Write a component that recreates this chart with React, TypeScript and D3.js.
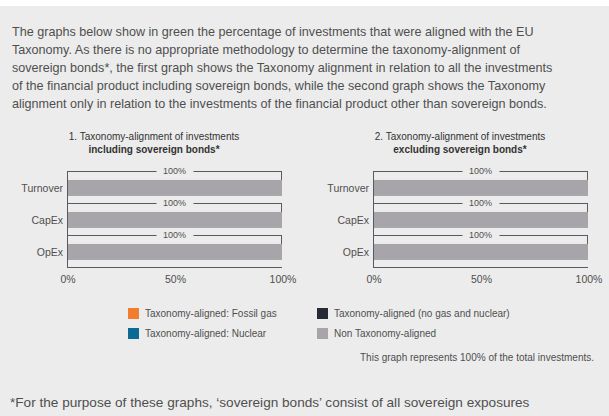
import React from "react";
import * as d3 from "d3";

const paragraphLines = [
  "The graphs below show in green the percentage of investments that were aligned with the EU",
  "Taxonomy. As there is no appropriate methodology to determine the taxonomy-alignment of",
  "sovereign bonds*, the first graph shows the Taxonomy alignment in relation to all the investments",
  "of the financial product including sovereign bonds, while the second graph shows the Taxonomy",
  "alignment only in relation to the investments of the financial product other than sovereign bonds.",
];

const categories = ["Turnover", "CapEx", "OpEx"];
const seriesKeys = ["fossilGas", "nuclear", "alignedOther", "nonAligned"];
const seriesLabels = [
  "Taxonomy-aligned: Fossil gas",
  "Taxonomy-aligned: Nuclear",
  "Taxonomy-aligned (no gas and nuclear)",
  "Non Taxonomy-aligned",
];
const seriesColors = ["#f07e2c", "#0d6a93", "#262a35", "#a7a5a9"];

// Chart 1: including sovereign bonds
const chart1FossilGas = [0, 0, 0];
const chart1Nuclear = [0, 0, 0];
const chart1AlignedOther = [0, 0, 0];
const chart1NonAligned = [100, 100, 100];
// Chart 2: excluding sovereign bonds
const chart2FossilGas = [0, 0, 0];
const chart2Nuclear = [0, 0, 0];
const chart2AlignedOther = [0, 0, 0];
const chart2NonAligned = [100, 100, 100];

const xTicks = [0, 50, 100];
const chartTitles = [
  ["1. Taxonomy-alignment of investments", "including sovereign bonds*"],
  ["2. Taxonomy-alignment of investments", "excluding sovereign bonds*"],
];
const note = "This graph represents 100% of the total investments.";
const footnote =
  "*For the purpose of these graphs, \u2018sovereign bonds\u2019 consist of all sovereign exposures";

const FONT = "'Liberation Sans', Arial, Helvetica, sans-serif";
const TEXT = "#4f4f4f";
const LINE = "#5a5a5e";

function buildRows(fg: number[], nu: number[], al: number[], na: number[]) {
  return categories.map((c, i) => ({
    category: c,
    fossilGas: fg[i],
    nuclear: nu[i],
    alignedOther: al[i],
    nonAligned: na[i],
  }));
}

function BarChart({ rows, x0, title }: { rows: any[]; x0: number; title: string[] }) {
  const x = d3.scaleLinear().domain([0, 100]).range([x0, x0 + 215]);
  const y = d3.scaleBand().domain(categories).range([171, 267]).paddingInner(0).paddingOuter(0);
  const stack = d3.stack<any>().keys(seriesKeys);
  const stacked = stack(rows);
  const bw = y.bandwidth();
  const barOff = bw * 0.28;
  const barH = bw * 0.5;
  const totals = rows.map((r) => seriesKeys.reduce((s, k) => s + r[k], 0));
  const mid = (x.range()[0] + x.range()[1]) / 2;
  const cx = x0 + 87;
  return (
    <g>
      <text x={cx} y={139.5} textAnchor="middle" fontSize={10} fill="#333" fontFamily={FONT}>
        {title[0]}
      </text>
      <text x={cx} y={153} textAnchor="middle" fontSize={10} fontWeight="bold" fill="#333" fontFamily={FONT}>
        {title[1]}
      </text>
      {stacked.map((s, si) =>
        s.map((d, i) =>
          d[1] - d[0] > 0 ? (
            <rect
              key={`${si}-${i}`}
              x={x(d[0])}
              y={(y(categories[i]) as number) + barOff}
              width={x(d[1]) - x(d[0])}
              height={barH}
              fill={seriesColors[si]}
            />
          ) : null
        )
      )}
      {categories.map((c, i) => {
        const top = y(c) as number;
        const xr = x(totals[i]);
        return (
          <g key={c}>
            <line x1={x(0)} x2={mid - 18} y1={top + 0.5} y2={top + 0.5} stroke={LINE} strokeWidth={1} />
            <line x1={mid + 19} x2={xr} y1={top + 0.5} y2={top + 0.5} stroke={LINE} strokeWidth={1} />
            <line x1={xr - 0.5} x2={xr - 0.5} y1={top} y2={top + barOff} stroke={LINE} strokeWidth={1} />
            <text x={mid} y={top + 2.5} textAnchor="middle" fontSize={9} fill={TEXT} fontFamily={FONT}>
              {`${totals[i]}%`}
            </text>
            <text
              x={x0 - 4}
              y={top + barOff + barH / 2 + 3.6}
              textAnchor="end"
              fontSize={10.5}
              fill={TEXT}
              fontFamily={FONT}
            >
              {c}
            </text>
          </g>
        );
      })}
      <line x1={x0 + 0.5} x2={x0 + 0.5} y1={171} y2={267.5} stroke={LINE} strokeWidth={1} />
      <line x1={x0} x2={x(100)} y1={267.5} y2={267.5} stroke={LINE} strokeWidth={1} />
      {xTicks.map((t) => (
        <text key={t} x={x(t) + 1} y={283} textAnchor="middle" fontSize={10.5} fill={TEXT} fontFamily={FONT}>
          {`${t}%`}
        </text>
      ))}
    </g>
  );
}

export default function App() {
  const rows1 = buildRows(chart1FossilGas, chart1Nuclear, chart1AlignedOther, chart1NonAligned);
  const rows2 = buildRows(chart2FossilGas, chart2Nuclear, chart2AlignedOther, chart2NonAligned);
  const legendPos = [
    [128, 308],
    [128, 328],
    [317, 308],
    [317, 328],
  ];
  return (
    <svg width={609} height={416} style={{ position: "absolute", left: 0, top: 0 }}>
      <rect x={0} y={0} width={609} height={416} fill="#ffffff" />
      <rect x={0} y={6} width={609} height={410} fill="#ececec" />
      {paragraphLines.map((l, i) => (
        <text key={i} x={12} y={36 + i * 18} fontSize={12.6} fill={TEXT} fontFamily={FONT}>
          {l}
        </text>
      ))}
      <BarChart rows={rows1} x0={67} title={chartTitles[0]} />
      <BarChart rows={rows2} x0={373} title={chartTitles[1]} />
      {seriesLabels.map((s, i) => (
        <g key={s}>
          <rect x={legendPos[i][0]} y={legendPos[i][1]} width={11} height={11} fill={seriesColors[i]} />
          <text x={legendPos[i][0] + 17} y={legendPos[i][1] + 9} fontSize={10} fill={TEXT} fontFamily={FONT}>
            {s}
          </text>
        </g>
      ))}
      <text x={594} y={361} textAnchor="end" fontSize={10} fill={TEXT} fontFamily={FONT}>
        {note}
      </text>
      <text x={10} y={407} fontSize={13.6} fill={TEXT} fontFamily={FONT}>
        {footnote}
      </text>
    </svg>
  );
}
